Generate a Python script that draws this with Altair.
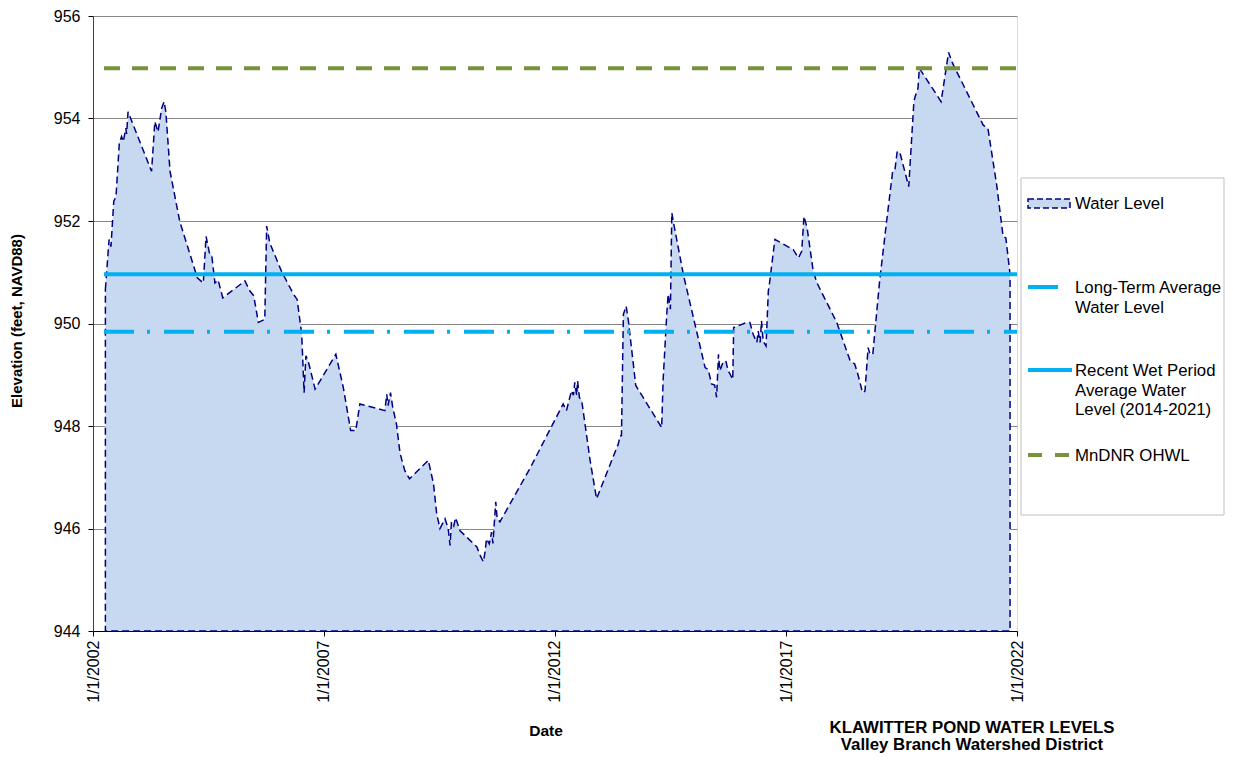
import altair as alt
import pandas as pd

# ---- data ----
years = [2002.27, 2002.35, 2002.39, 2002.45, 2002.50, 2002.57, 2002.62, 2002.66, 2002.71, 2002.73,
         2002.76, 2003.27, 2003.34, 2003.41, 2003.49, 2003.54, 2003.58, 2003.67, 2003.88, 2004.26,
         2004.39, 2004.45, 2004.52, 2004.57, 2004.64, 2004.71, 2004.81, 2005.29, 2005.36, 2005.40,
         2005.48, 2005.58, 2005.72, 2005.76, 2005.83, 2006.08, 2006.34, 2006.42, 2006.52, 2006.57,
         2006.61, 2006.66, 2006.81, 2007.26, 2007.42, 2007.58, 2007.69, 2007.78, 2008.32, 2008.36,
         2008.39, 2008.44, 2008.49, 2008.57, 2008.65, 2008.75, 2008.85, 2009.26, 2009.37, 2009.44,
         2009.51, 2009.62, 2009.69, 2009.73, 2009.76, 2009.81, 2009.85, 2009.94, 2010.31, 2010.38,
         2010.45, 2010.49, 2010.52, 2010.58, 2010.63, 2010.66, 2010.72, 2010.75, 2010.81, 2011.46,
         2012.18, 2012.25, 2012.36, 2012.40, 2012.43, 2012.47, 2012.49, 2012.53, 2012.58, 2012.76,
         2012.90, 2013.37, 2013.41, 2013.44, 2013.48, 2013.54, 2013.59, 2013.75, 2014.31, 2014.34,
         2014.42, 2014.45, 2014.50, 2014.53, 2014.56, 2014.78, 2015.25, 2015.32, 2015.39, 2015.46,
         2015.50, 2015.54, 2015.57, 2015.64, 2015.70, 2015.75, 2015.80, 2015.85, 2015.87, 2016.15,
         2016.22, 2016.29, 2016.37, 2016.40, 2016.44, 2016.47, 2016.51, 2016.57, 2016.62, 2016.64,
         2016.76, 2017.16, 2017.27, 2017.34, 2017.39, 2017.46, 2017.59, 2017.66, 2017.69, 2018.10,
         2018.39, 2018.49, 2018.56, 2018.66, 2018.71, 2018.78, 2018.82, 2018.88, 2019.03, 2019.18,
         2019.31, 2019.36, 2019.41, 2019.47, 2019.66, 2019.77, 2019.80, 2019.86, 2019.89, 2020.36,
         2020.52, 2020.61, 2021.27, 2021.37, 2021.56, 2021.70, 2021.76, 2021.85]

levels = [950.67, 951.64, 951.50, 952.38, 952.48, 953.52, 953.65, 953.55, 953.81, 953.70,
          954.13, 952.97, 953.94, 953.74, 954.20, 954.33, 954.13, 952.97, 951.99, 950.89,
          950.79, 951.70, 951.38, 951.35, 950.79, 950.85, 950.50, 950.83, 950.70, 950.63,
          950.54, 950.02, 950.08, 951.90, 951.57, 951.02, 950.57, 950.47, 949.79, 948.65,
          949.37, 949.27, 948.72, 949.40, 948.75, 947.91, 947.91, 948.43, 948.30, 948.62,
          948.40, 948.65, 948.36, 948.04, 947.46, 947.13, 946.97, 947.33, 946.87, 946.29,
          946.00, 946.19, 946.00, 945.67, 946.13, 946.05, 946.21, 945.96, 945.64, 945.48,
          945.35, 945.55, 945.80, 945.70, 945.93, 945.71, 946.52, 946.20, 946.13, 947.17,
          948.43, 948.30, 948.69, 948.60, 948.85, 948.60, 948.88, 948.56, 948.49, 947.33,
          946.58, 947.65, 947.81, 947.81, 950.18, 950.34, 950.05, 948.79, 947.97, 948.88,
          950.18, 950.57, 950.28, 952.16, 952.00, 950.96, 949.14, 949.10, 948.82, 948.80,
          948.56, 949.40, 949.08, 949.24, 949.27, 949.08, 949.00, 948.91, 949.92, 950.02,
          950.02, 949.79, 949.63, 949.85, 949.63, 950.05, 949.65, 949.56, 950.63, 950.76,
          951.64, 951.44, 951.28, 951.41, 952.09, 951.86, 951.02, 950.83, 950.76, 950.02,
          949.27, 949.21, 949.00, 948.65, 948.68, 949.53, 949.40, 949.40, 950.83, 951.99,
          952.97, 953.00, 953.36, 953.33, 952.67, 954.33, 954.43, 954.59, 954.98, 954.33,
          955.29, 955.07, 953.87, 953.81, 952.71, 951.70, 951.67, 950.96]

ohwl_level = 954.98
wet_avg_level = 950.96
longterm_avg_level = 949.84
ref_start = "2002-03-29"
ref_end = "2022-01-01"
tick_years = [2002, 2007, 2012, 2017, 2022]
y_ticks = [944, 946, 948, 950, 952, 954, 956]
base_level = 944


def to_date(y):
    b = pd.Timestamp(int(y), 1, 1)
    n = pd.Timestamp(int(y) + 1, 1, 1)
    return (b + (n - b) * (y - int(y))).normalize()


df = pd.DataFrame({"date": [to_date(y) for y in years], "level": levels})
df["base"] = base_level

FONT = "Liberation Sans"
NAVY = "#000080"
FILL = "#c6d9f0"
CYAN = "#00b0f0"
GREEN = "#77933c"

xscale = alt.Scale(domain=[alt.DateTime(year=2002, month=1, date=1),
                           alt.DateTime(year=2022, month=1, date=1)], nice=False)
yscale = alt.Scale(domain=[944, 956], nice=False, zero=False)

xaxis = alt.Axis(values=[alt.DateTime(year=y, month=1, date=1) for y in tick_years],
                 format="%-m/%-d/%Y", labelAngle=-90, labelFontSize=16, labelColor="black",
                 labelFont=FONT, tickSize=5, tickColor="black", domainColor="black",
                 grid=False, title=None, labelPadding=4, labelFlush=False, labelOverlap=False)
yaxis = alt.Axis(values=y_ticks, labelFontSize=16, labelColor="black", labelFont=FONT,
                 tickSize=5, tickColor="black", domainColor="#404040", grid=True,
                 gridColor="#868686", gridWidth=1, title=None, labelPadding=8)

area = alt.Chart(df).mark_area(
    fill=FILL, stroke=NAVY, strokeWidth=1.5, strokeDash=[7, 4], opacity=1, fillOpacity=1
).encode(
    x=alt.X("date:T", scale=xscale, axis=xaxis),
    y=alt.Y("level:Q", scale=yscale, axis=yaxis),
    y2="base:Q",
)


def ref_rule(level, color, dash=None):
    d = pd.DataFrame({"start": [pd.Timestamp(ref_start)], "end": [pd.Timestamp(ref_end)],
                      "level": [level]})
    kw = dict(color=color, strokeWidth=4)
    if dash:
        kw["strokeDash"] = dash
    return alt.Chart(d).mark_rule(**kw).encode(
        x=alt.X("start:T", scale=xscale), x2="end:T", y=alt.Y("level:Q", scale=yscale))


ohwl = ref_rule(ohwl_level, GREEN, [16, 12])
wet = ref_rule(wet_avg_level, CYAN)
lt = ref_rule(longterm_avg_level, CYAN, [30, 13, 3, 14])

one = pd.DataFrame({"k": [0]})


def txt(s, x, y, size=15, bold=False, angle=0, align="center", baseline="middle"):
    kw = dict(font=FONT, fontSize=size, color="black", align=align, baseline=baseline,
              lineBreak="\n", lineHeight=19.5)
    if bold:
        kw["fontWeight"] = "bold"
    if angle:
        kw["angle"] = angle
    return alt.Chart(one).mark_text(**kw).encode(
        x=alt.value(x), y=alt.value(y), text=alt.value(s))


DY = -2  # plot top sits 2px lower than in the reference, so page-anchored texts shift up
texts = [
    txt("Elevation (feet, NAVD88)", -76, 307 + DY, size=15, bold=True, angle=270),
    txt("Date", 453, 717 + DY, size=15.5, bold=True),
    txt("KLAWITTER POND WATER LEVELS", 879, 714 + DY, size=16.8, bold=True),
    txt("Valley Branch Watershed District", 879, 731 + DY, size=16.8, bold=True),
]

# custom legend
leg_box = alt.Chart(one).mark_rect(fill="white", stroke="#bfbfbf", strokeWidth=1).encode(
    x=alt.value(928), x2=alt.value(1131), y=alt.value(164 + DY), y2=alt.value(501 + DY))
leg_wl = alt.Chart(one).mark_rect(fill=FILL, stroke=NAVY, strokeWidth=1.5, strokeDash=[6, 3]).encode(
    x=alt.value(935), x2=alt.value(977), y=alt.value(185 + DY), y2=alt.value(194 + DY))
leg_lt = alt.Chart(one).mark_rule(color=CYAN, strokeWidth=4).encode(
    x=alt.value(935), x2=alt.value(965), y=alt.value(273 + DY))
leg_wet = alt.Chart(one).mark_rule(color=CYAN, strokeWidth=4).encode(
    x=alt.value(935), x2=alt.value(979), y=alt.value(356 + DY))
leg_ohwl = alt.Chart(one).mark_rule(color=GREEN, strokeWidth=4, strokeDash=[14, 13]).encode(
    x=alt.value(935), x2=alt.value(979), y=alt.value(441 + DY))
LS = 16.8
leg_texts = [
    txt("Water Level", 982, 195 + DY, size=LS, align="left", baseline="alphabetic"),
    txt("Long-Term Average\nWater Level", 982, 279 + DY, size=LS, align="left", baseline="alphabetic"),
    txt("Recent Wet Period\nAverage Water\nLevel (2014-2021)", 982, 362 + DY, size=LS, align="left",
        baseline="alphabetic"),
    txt("MnDNR OHWL", 982, 447 + DY, size=LS, align="left", baseline="alphabetic"),
]

chart = alt.layer(
    area, ohwl, wet, lt, *texts, leg_box, leg_wl, leg_lt, leg_wet, leg_ohwl, *leg_texts
).properties(
    width=924, height=615,
    autosize=alt.AutoSizeParams(type="none"),
    padding={"left": 85, "top": 8, "right": 208, "bottom": 123},
).configure_view(stroke="#868686", strokeWidth=1).configure(font=FONT)

chart.save("out.html", embed_options={"renderer": "svg", "actions": False})
